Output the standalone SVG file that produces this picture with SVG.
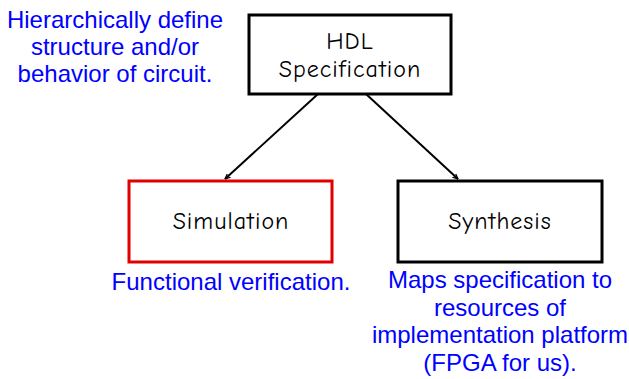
<svg xmlns="http://www.w3.org/2000/svg" width="629" height="379" viewBox="0 0 629 379">
<defs>
<style>
.box{fill:#fff;stroke:#000;stroke-width:3}
.red{stroke:#e00000}
.bt{font-family:"Comic Sans MS","Comic Neue","DejaVu Sans",sans-serif;font-size:24px;letter-spacing:1px;fill:#000;text-anchor:middle}
.note{font-family:"Liberation Sans",Arial,sans-serif;font-size:24px;fill:#0000ff;text-anchor:middle}
.conn{stroke:#000;stroke-width:2;fill:none;marker-end:url(#ah)}
</style>
<marker id="ah" viewBox="0 0 10 10" refX="9" refY="5" markerWidth="6" markerHeight="6" orient="auto" markerUnits="userSpaceOnUse">
<path d="M0,1 L9,5 L0,9" fill="none" stroke="#000" stroke-width="2"/>
</marker>
</defs>
<g id="connectors">
<line class="conn" x1="318" y1="94" x2="225" y2="179"/>
<line class="conn" x1="366" y1="94" x2="458" y2="179"/>
</g>
<g id="hdl">
<rect class="box" x="249" y="15" width="202" height="79"/>
<text class="bt" x="350" y="49">HDL</text>
<text class="bt" x="350" y="77">Specification</text>
</g>
<g id="simulation">
<rect class="box red" x="129" y="181" width="203" height="81"/>
<text class="bt" x="231" y="229">Simulation</text>
</g>
<g id="synthesis">
<rect class="box" x="398" y="181" width="204" height="81"/>
<text class="bt" x="500" y="229">Synthesis</text>
</g>
<g id="note-hdl">
<text class="note" x="115" y="28">Hierarchically define</text>
<text class="note" x="115" y="55">structure and/or</text>
<text class="note" x="115" y="82">behavior of circuit.</text>
</g>
<g id="note-sim">
<text class="note" x="231" y="290">Functional verification.</text>
</g>
<g id="note-syn">
<text class="note" x="500" y="288">Maps specification to</text>
<text class="note" x="500" y="316">resources of</text>
<text class="note" x="500" y="343">implementation platform</text>
<text class="note" x="500" y="371">(FPGA for us).</text>
</g>
</svg>
